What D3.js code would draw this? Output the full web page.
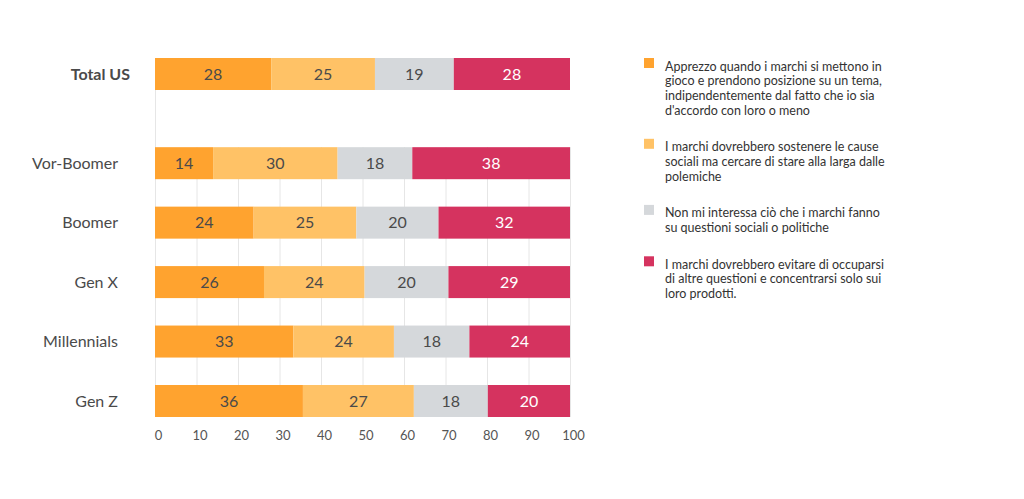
<!DOCTYPE html>
<html>
<head>
<meta charset="utf-8">
<script src="https://cdn.jsdelivr.net/npm/d3@7"></script>
<style>
  body { margin: 0; background: #fff; font-family: Lato, "Open Sans", sans-serif; }
  svg text { font-family: Lato, "Open Sans", sans-serif; }
</style>
</head>
<body>
<svg id="chart" width="1024" height="499"></svg>
<script>
// categories, top to bottom
const categories = ['Total US', 'Vor-Boomer', 'Boomer', 'Gen X', 'Millennials', 'Gen Z'];
// slot index of each row (gap after Total US)
const slots = [0, 1.5, 2.5, 3.5, 4.5, 5.5];

// series values, one per category
const apprezzo = [28, 14, 24, 26, 33, 36];
const sostenere = [25, 30, 25, 24, 24, 27];
const nonInteressa = [19, 18, 20, 20, 18, 18];
const evitare = [28, 38, 32, 29, 24, 20];

const seriesNames = [
  ['Apprezzo quando i marchi si mettono in', 'gioco e prendono posizione su un tema,', 'indipendentemente dal fatto che io sia', "d'accordo con loro o meno"],
  ['I marchi dovrebbero sostenere le cause', 'sociali ma cercare di stare alla larga dalle', 'polemiche'],
  ['Non mi interessa ciò che i marchi fanno', 'su questioni sociali o politiche'],
  ['I marchi dovrebbero evitare di occuparsi', 'di altre questioni e concentrarsi solo sui', 'loro prodotti.']
];

const xTicks = [0, 10, 20, 30, 40, 50, 60, 70, 80, 90, 100];

const colors = ['#FFA32F', '#FFC266', '#D5D8DB', '#D5335F'];
const textColors = ['#4a4a4a', '#4a4a4a', '#4a4a4a', '#ffffff'];

const series = [apprezzo, sostenere, nonInteressa, evitare];

let svg = d3.select('#chart');

// bars are normalised to 100%
let x = d3.scaleLinear().domain([0, 100]).range([155, 570]);
let y = d3.scaleLinear().domain([0, 5.5]).range([74, 401]);
let barH = 32;

let rows = categories.map((c, i) => {
  let row = {category: c, slot: slots[i]};
  series.forEach((s, k) => { row['s' + k] = s[i]; });
  return row;
});

let stack = d3.stack()
  .keys(['s0', 's1', 's2', 's3'])
  .offset(d3.stackOffsetExpand)(rows);

// gridlines (below the Total US gap only)
let gridTop = y(slots[1]) - barH / 2;
let gridBottom = y(slots[slots.length - 1]) + barH / 2;
svg.append('g')
  .selectAll('line')
  .data(xTicks)
  .join('line')
    .attr('x1', d => x(d) + 0.5)
    .attr('x2', d => x(d) + 0.5)
    .attr('y1', d => d === 0 ? y(0) - barH / 2 : gridTop)
    .attr('y2', gridBottom)
    .style('stroke', '#e6e6e6')
    .style('stroke-width', 1);

// bars
let layers = svg.append('g')
  .selectAll('g')
  .data(stack)
  .join('g');

let segs = (d, k) => d.map(v => ({v: v, k: k, value: series[k][categories.indexOf(v.data.category)]}));

layers.selectAll('rect')
  .data(segs)
  .join('rect')
    .attr('x', d => x(d.v[0] * 100))
    .attr('y', d => y(d.v.data.slot) - barH / 2)
    .attr('width', d => x(d.v[1] * 100) - x(d.v[0] * 100))
    .attr('height', barH)
    .style('fill', d => colors[d.k]);

layers.selectAll('text')
  .data(segs)
  .join('text')
    .attr('x', d => (x(d.v[0] * 100) + x(d.v[1] * 100)) / 2)
    .attr('y', d => y(d.v.data.slot))
    .attr('dy', '0.36em')
    .attr('text-anchor', 'middle')
    .style('font-size', '16px')
    .style('fill', d => textColors[d.k])
    .text(d => d.value);

// category labels
svg.append('g')
  .selectAll('text')
  .data(rows)
  .join('text')
    .attr('x', (d, i) => i === 0 ? 130 : 118)
    .attr('y', d => y(d.slot))
    .attr('dy', '0.36em')
    .attr('text-anchor', 'end')
    .style('font-size', '16px')
    .style('font-weight', (d, i) => i === 0 ? 'bold' : 'normal')
    .style('fill', '#4a4a4a')
    .text(d => d.category);

// x axis
let xAxis = svg.append('g')
  .attr('transform', 'translate(3,' + (gridBottom + 14) + ')')
  .call(d3.axisBottom(x).tickValues(xTicks).tickSize(0).tickPadding(0));
xAxis.select('.domain').remove();
xAxis.selectAll('text')
  .style('font-size', '13px')
  .style('fill', '#555')
  .style('font-family', 'Lato, sans-serif');

// legend
let legend = svg.append('g').attr('transform', 'translate(644,58)');
let lineH = 14.7;
let offset = 0;
seriesNames.forEach((lines, k) => {
  let item = legend.append('g').attr('transform', 'translate(0,' + offset + ')');
  item.append('rect')
    .attr('width', 10)
    .attr('height', 10)
    .style('fill', colors[k]);
  item.append('text')
    .attr('x', 21)
    .attr('y', 8)
    .style('font-size', '12.5px')
    .style('fill', '#333')
    .selectAll('tspan')
    .data(lines)
    .join('tspan')
      .attr('x', 21)
      .attr('dy', (d, i) => i === 0 ? '0.36em' : lineH)
      .text(d => d);
  offset += lines.length * lineH + 22;
});
</script>
</body>
</html>
